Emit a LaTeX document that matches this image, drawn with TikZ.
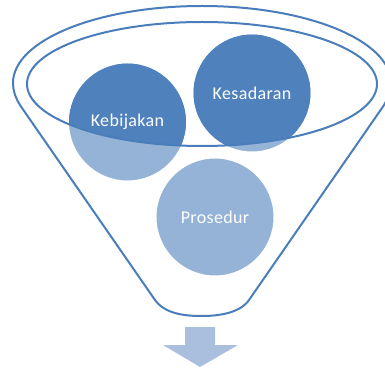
\documentclass[tikz,border=0pt]{standalone}
\usepackage{fontspec}
\setmainfont{Carlito}[LetterSpace=2]
\definecolor{rimblue}{HTML}{4A7EBB}
\definecolor{darkball}{HTML}{4F81BD}
\definecolor{lightball}{HTML}{95B3D7}
\definecolor{arrowblue}{RGB}{170,190,222}
\tikzset{
  outline/.style={draw=rimblue, line width=2pt, line join=round},
  ball/.style={circle, minimum size=118pt, inner sep=0pt, draw=white, line width=1pt, fill=lightball},
  balltext/.style={text=white, font=\fontsize{18}{21}\selectfont},
}
\begin{document}
\begin{tikzpicture}[x=1pt,y=-1pt]
\useasboundingbox (0,0) rectangle (385,371);
\clip (0,0) rectangle (385,371);
% funnel body outline
\draw[outline] (155,300) -- (22,108) .. controls (15,98) and (13,90) .. (13,83)
  .. controls (13,40.5) and (97,6) .. (202,6)
  .. controls (307,6) and (391,40.5) .. (391,83)
  .. controls (391,90) and (389,98) .. (382,108) -- (249,300)
  .. controls (240,313) and (219,316) .. (202,316)
  .. controls (185,316) and (165,314) .. (155,300);
% balls
\node[ball] (keb) at (127.5,122) {};
\node[ball] (kes) at (252,93) {};
\node[ball] (pro) at (215,217) {};
\begin{scope}
  \clip (202,84) ellipse [x radius=175pt, y radius=62pt];
  \fill[darkball] (keb.center) circle [radius=58.5pt];
  \fill[darkball] (kes.center) circle [radius=58.5pt];
\end{scope}
% rim
\coordinate (rimc) at (202,84);
\draw[outline] (rimc) ellipse [x radius=175pt, y radius=62pt];
% labels
\node[balltext] (tkeb) at (keb.center) {Kebijakan};
\node[balltext] (tkes) at (kes.center) {Kesadaran};
\node[balltext] (tpro) at (pro.center) {Prosedur};
% output arrow
\fill[arrowblue] (185,327) -- (215,327) -- (215,345) -- (238,345) -- (200,367) -- (163,345) -- (185,345) -- cycle;
\end{tikzpicture}
\end{document}
